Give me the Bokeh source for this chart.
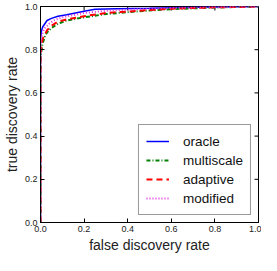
import math
from bokeh.plotting import figure
from bokeh.models import Legend, LegendItem, Range1d, FixedTicker, CustomJSTickFormatter
from bokeh.embed import file_html
from bokeh.resources import INLINE

# ROC-like curves: false discovery rate vs true discovery rate
oracle_fdr = [0, 0, 0.005, 0.01, 0.02, 0.03, 0.05, 0.08, 0.12, 0.16, 0.2, 0.25, 0.35, 0.5, 0.65, 0.8, 1.0]
oracle_tdr = [0, 0.85, 0.89, 0.905, 0.92, 0.935, 0.945, 0.955, 0.962, 0.97, 0.978, 0.987, 0.99, 0.992, 0.995, 0.998, 1.0]

multiscale_fdr = [0, 0, 0.005, 0.01, 0.02, 0.03, 0.05, 0.08, 0.12, 0.2, 0.3, 0.45, 0.6, 0.8, 1.0]
multiscale_tdr = [0, 0.76, 0.8, 0.83, 0.86, 0.88, 0.9, 0.92, 0.935, 0.95, 0.965, 0.978, 0.988, 0.995, 1.0]

adaptive_fdr = [0, 0, 0.005, 0.01, 0.02, 0.03, 0.05, 0.08, 0.12, 0.2, 0.3, 0.45, 0.6, 0.8, 1.0]
adaptive_tdr = [0, 0.78, 0.82, 0.85, 0.87, 0.89, 0.91, 0.93, 0.94, 0.955, 0.97, 0.98, 0.99, 0.996, 1.0]

modified_fdr = [0, 0, 0.005, 0.01, 0.02, 0.04, 0.06, 0.1, 0.15, 0.2, 0.3, 0.45, 0.6, 0.8, 1.0]
modified_tdr = [0, 0.82, 0.86, 0.88, 0.9, 0.92, 0.935, 0.95, 0.96, 0.97, 0.98, 0.988, 0.993, 0.997, 1.0]

ticks = [0.0, 0.2, 0.4, 0.6, 0.8, 1.0]
FONT = "Liberation Sans"

p = figure(width=261, height=255, output_backend="svg", toolbar_location=None,
           x_range=Range1d(0, 1), y_range=Range1d(0, 1),
           min_border_top=6, min_border_right=3, min_border_left=0, min_border_bottom=0)
p.grid.visible = False
p.outline_line_color = "black"
p.outline_line_width = 1

fmt = CustomJSTickFormatter(code="return tick.toFixed(1);")

for ax in (p.xaxis[0], p.yaxis[0]):
    ax.ticker = FixedTicker(ticks=ticks)
    ax.major_tick_in = 4
    ax.major_tick_out = 0
    ax.minor_tick_in = 0
    ax.minor_tick_out = 0
    ax.axis_line_color = "black"
    ax.major_tick_line_color = "black"
    ax.major_label_text_font = FONT
    ax.major_label_text_font_size = "9px"
    ax.major_label_text_color = "#222222"
    ax.axis_label_text_font = FONT
    ax.axis_label_text_font_size = "14px"
    ax.axis_label_text_font_style = "normal"
    ax.axis_label_text_color = "#222222"
    ax.major_label_standoff = 3
    ax.axis_label_standoff = 2
    ax.formatter = fmt

p.xaxis[0].axis_label = "false discovery rate"
p.yaxis[0].axis_label = "true discovery rate"

# inward tick marks on the top and right edges (mirroring bottom/left ticks)
p.ray(x=ticks, y=[1.0] * len(ticks), length=4, angle=-math.pi / 2,
      length_units="screen", line_color="black", line_width=1)
p.ray(x=[1.0] * len(ticks), y=ticks, length=4, angle=math.pi,
      length_units="screen", line_color="black", line_width=1)

r1 = p.line(oracle_fdr, oracle_tdr, line_color="#0000ff", line_width=1.5)
r2 = p.line(multiscale_fdr, multiscale_tdr, line_color="#008000", line_width=2, line_dash="4 2 1 2")
r3 = p.line(adaptive_fdr, adaptive_tdr, line_color="#ff0000", line_width=2, line_dash="6 4")
r4 = p.line(modified_fdr, modified_tdr, line_color="#e030e0", line_width=2, line_dash="1 2")

legend = Legend(items=[
    LegendItem(label="oracle", renderers=[r1]),
    LegendItem(label="multiscale", renderers=[r2]),
    LegendItem(label="adaptive", renderers=[r3]),
    LegendItem(label="modified", renderers=[r4]),
], location="bottom_right")
legend.label_text_font = FONT
legend.label_text_font_size = "13.5px"
legend.label_text_color = "#111111"
legend.glyph_width = 23
legend.glyph_height = 18
legend.label_height = 18
legend.spacing = 1
legend.padding = 7
legend.label_standoff = 14
legend.margin = 7
legend.border_line_color = "#333333"
legend.border_line_width = 1
legend.background_fill_alpha = 1.0
p.add_layout(legend)

open("out.html", "w").write(file_html(p, INLINE))
